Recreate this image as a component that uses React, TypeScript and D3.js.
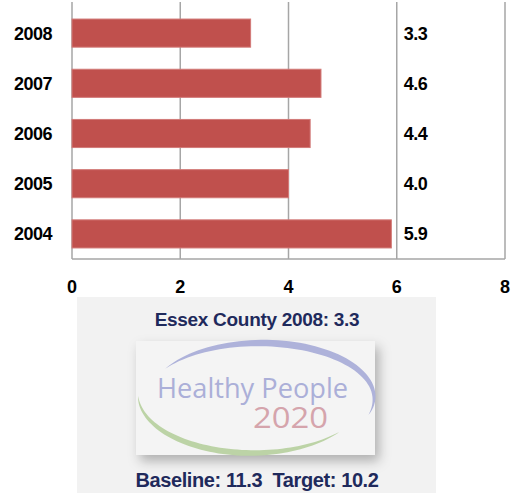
import React from "react";
import * as d3 from "d3";

const years = ["2008", "2007", "2006", "2005", "2004"];
const rates = [3.3, 4.6, 4.4, 4.0, 5.9];
const rateLabels = ["3.3", "4.6", "4.4", "4.0", "5.9"];
const xTicks = [0, 2, 4, 6, 8];
const countyText = "Essex County 2008: 3.3";
const goalText = "Baseline: 11.3  Target: 10.2";

const W = 511;
const H = 495;
const FONT = "'Liberation Sans', Arial, sans-serif";
const NAVY = "#1f2a5c";

// tapered elliptical stroke for the logo swooshes
const swoosh = (cx: number, cy: number, rx: number, ry: number, a0: number, a1: number, wmax: number) => {
  const n = 60;
  const outer: [number, number][] = [];
  const inner: [number, number][] = [];
  for (let i = 0; i <= n; i++) {
    const f = i / n;
    const a = ((a0 + (a1 - a0) * f) * Math.PI) / 180;
    const w = wmax * Math.pow(Math.sin(Math.PI * f), 0.8);
    outer.push([cx + (rx + w / 2) * Math.cos(a), cy + (ry + w / 2) * Math.sin(a)]);
    inner.push([cx + (rx - w / 2) * Math.cos(a), cy + (ry - w / 2) * Math.sin(a)]);
  }
  return d3.line()([...outer, ...inner.reverse()]) + "Z";
};

const App: React.FC = () => {
  const x = d3.scaleLinear().domain([0, 8]).range([72, 505]);
  const y = d3.scaleBand().domain(years).range([8, 259]).paddingInner(0.44).paddingOuter(0.22);

  const label = {
    fontFamily: FONT,
    fontWeight: "bold" as const,
    fontSize: 18,
    letterSpacing: -0.5,
    fill: "#000",
  };

  return (
    <svg width={W} height={H} style={{ position: "absolute", left: 0, top: 0 }}>
      <defs>
        <filter id="shadow" x="-20%" y="-20%" width="140%" height="150%">
          <feDropShadow dx="4" dy="6" stdDeviation="6" floodColor="#000" floodOpacity="0.28" />
        </filter>
      </defs>
      <rect width={W} height={H} fill="#fff" />

      {/* gridlines */}
      {xTicks.map((t) => (
        <line key={t} x1={x(t)} x2={x(t)} y1={2} y2={259} stroke="#a6a6a6" strokeWidth={1.5} />
      ))}
      <line x1={x(0)} x2={x(8)} y1={259} y2={259} stroke="#a6a6a6" strokeWidth={1.5} />

      {/* bars */}
      {years.map((yr, i) => (
        <rect
          key={yr}
          x={x(0)}
          y={y(yr)}
          width={x(rates[i]) - x(0)}
          height={y.bandwidth()}
          fill="#c0504d"
          stroke="#d27a78"
          strokeWidth={1}
        />
      ))}

      {/* category labels */}
      {years.map((yr) => (
        <text key={yr} x={52} y={y(yr)! + y.bandwidth() / 2} dy="0.36em" textAnchor="end" {...label}>
          {yr}
        </text>
      ))}

      {/* value labels */}
      {years.map((yr, i) => (
        <text key={yr} x={x(6) + 7} y={y(yr)! + y.bandwidth() / 2} dy="0.36em" {...label}>
          {rateLabels[i]}
        </text>
      ))}

      {/* x tick labels */}
      {xTicks.map((t) => (
        <text key={t} x={x(t)} y={287} dy="0.36em" textAnchor="middle" {...label} letterSpacing={0}>
          {t}
        </text>
      ))}

      {/* Healthy People panel */}
      <rect x={77} y={297} width={359} height={196} fill="#f2f2f2" />
      <text
        x={257}
        y={319}
        dy="0.36em"
        textAnchor="middle"
        fontFamily={FONT}
        fontWeight="bold"
        fontSize={19}
        fill={NAVY}
        letterSpacing={-0.3}
      >
        {countyText}
      </text>

      <rect x={136} y={341} width={239} height={114} fill="#f4f4f4" filter="url(#shadow)" />
      <path d={swoosh(261, 398, 113, 55, 212, 378, 7)} fill="#aeb2da" />
      <path d={swoosh(252, 394, 114, 59, 178, 40, 6)} fill="#bcd3a6" />
      <text x={157} y={398} fontFamily="'Open Sans', sans-serif" fontSize={28} fill="#abafd8" textLength={191} lengthAdjust="spacingAndGlyphs">
        Healthy People
      </text>
      <text x={253} y={428} fontFamily="'Open Sans', sans-serif" fontSize={30} fill="#d5a4ac" textLength={75} lengthAdjust="spacingAndGlyphs">
        2020
      </text>

      <text
        x={257}
        y={480}
        dy="0.36em"
        textAnchor="middle"
        fontFamily={FONT}
        fontWeight="bold"
        fontSize={20}
        fill={NAVY}
        letterSpacing={-0.4}
        style={{ whiteSpace: "pre" }}
      >
        {goalText}
      </text>
    </svg>
  );
};

export default App;
